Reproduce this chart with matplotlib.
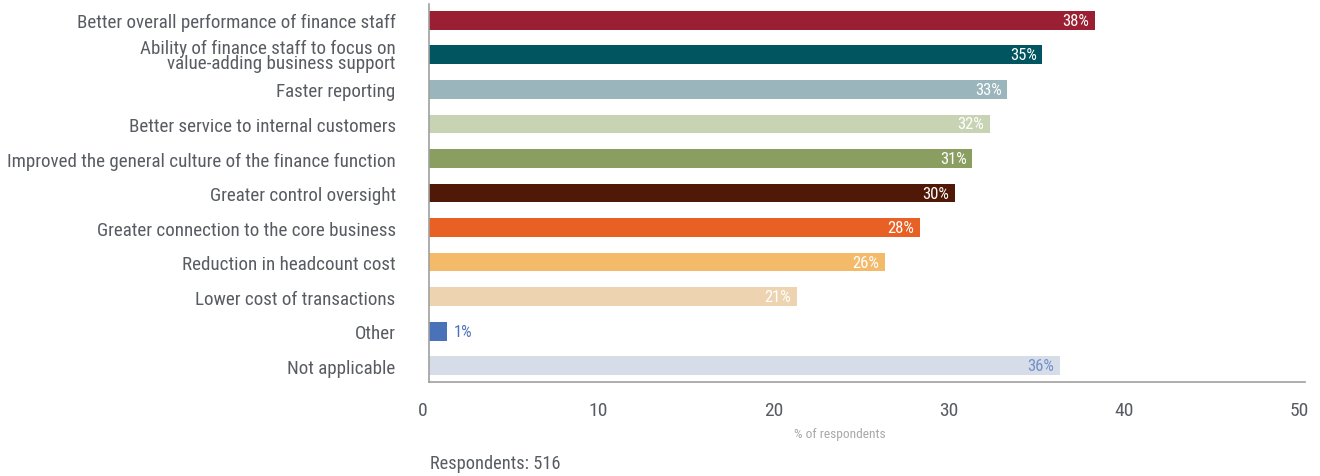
import os
import matplotlib
matplotlib.use("Agg")
import matplotlib.pyplot as plt
import matplotlib.transforms as mtransforms
from matplotlib import font_manager

# Survey results: benefits realised from the finance transformation
categories = [
    "Better overall performance of finance staff",
    "Ability of finance staff to focus on\nvalue-adding business support",
    "Faster reporting",
    "Better service to internal customers",
    "Improved the general culture of the finance function",
    "Greater control oversight",
    "Greater connection to the core business",
    "Reduction in headcount cost",
    "Lower cost of transactions",
    "Other",
    "Not applicable",
]
values = [38, 35, 33, 32, 31, 30, 28, 26, 21, 1, 36]
bar_colors = [
    "#9B1F32", "#005560", "#9BB5BD", "#C8D3B4", "#8A9E62", "#501806",
    "#E86024", "#F3BA6A", "#EDD3B0", "#4A72B8", "#D6DCE8",
]
label_colors = [
    "white", "white", "white", "white", "white", "white",
    "white", "white", "white", "#4A72B8", "#7090C8",
]
x_ticks = [0, 10, 20, 30, 40, 50]
x_label = "% of respondents"
note = "Respondents: 516"

# Prefer a narrow sans face for the labels
preferred = [
    "LiberationSansNarrow-Regular", "RobotoCondensed-Regular",
    "Roboto_Condensed-Regular", "DejaVuSansCondensed.", "OpenSans_Condensed-Regular",
    "OpenSansCondensed-Regular",
]
font_path = None
system_fonts = font_manager.findSystemFonts()
for key in preferred:
    for p in system_fonts:
        if key.lower() in os.path.basename(p).lower():
            font_path = p
            break
    if font_path:
        break


def fp(size):
    if font_path:
        return font_manager.FontProperties(fname=font_path, size=size)
    return font_manager.FontProperties(family="DejaVu Sans", size=size * 0.88)


W, H = 1320, 477
fig = plt.figure(figsize=(W / 100, H / 100), dpi=100)
ax = fig.add_axes([429 / W, 1 - 382.7 / H, (1305 - 429) / W, (382.7 - 5) / H])

ypos = list(range(len(categories)))
ax.barh(ypos, values, height=0.54, color=bar_colors, zorder=2)

for y, v, lc in zip(ypos, values, label_colors):
    txt = f"{v}%"
    if v < 5:
        ax.annotate(txt, (v, y), xytext=(5, 0), textcoords="offset points",
                    ha="left", va="center", color=lc, fontproperties=fp(12))
    else:
        ax.annotate(txt, (v, y), xytext=(-4, 0), textcoords="offset points",
                    ha="right", va="center", color=lc, fontproperties=fp(12))

ax.set_xlim(0, 50)
ax.set_ylim(10.46, -0.47)
ax.set_yticks(ypos)
ax.set_yticklabels(categories, color="#585c62", linespacing=0.82)
for lbl in ax.get_yticklabels():
    lbl.set_fontproperties(fp(13.7))
ax.set_xticks(x_ticks)
ax.set_xticklabels([str(t) for t in x_ticks], color="#585c62")
ax.tick_params(axis="y", length=0, pad=24)
ax.tick_params(axis="x", length=0, pad=14)

shift = mtransforms.ScaledTranslation(-6 / 100, 0, fig.dpi_scale_trans)
for lbl in ax.get_xticklabels():
    lbl.set_fontproperties(fp(14))
    lbl.set_transform(lbl.get_transform() + shift)

for side in ("top", "right"):
    ax.spines[side].set_visible(False)
for side in ("left", "bottom"):
    ax.spines[side].set_color("#a0a0a0")
    ax.spines[side].set_linewidth(1.2)

fig.text(840 / W, 1 - 435 / H, x_label, ha="center", va="center",
         color="#a8a8a8", fontproperties=fp(9.6))
fig.text(430 / W, 1 - 464 / H, note, ha="left", va="center",
         color="#585c62", fontproperties=fp(13.2))

fig.savefig("out.png", dpi=100)
